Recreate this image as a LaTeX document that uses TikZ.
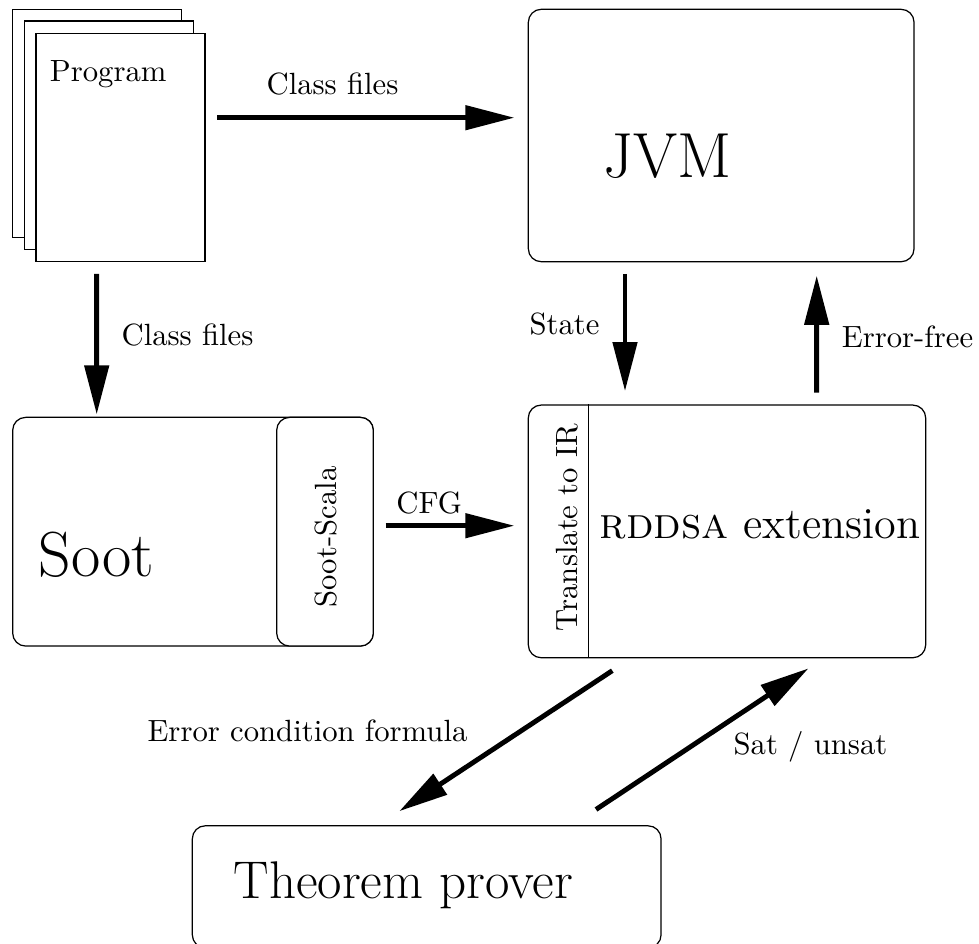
\documentclass[tikz,border=0pt]{standalone}
\usepackage{amsmath}
\usepackage{amssymb}
\usepackage{tikz}
\usetikzlibrary{arrows.meta}
\newcommand{\pxu}{0.3257pt}

\begin{document}
\begin{tikzpicture}[x=\pxu, y=\pxu]
	\tikzstyle{every node}+=[inner sep=0pt]
	\tikzstyle{page}=[draw=black, fill=white, minimum width=169*\pxu, minimum height=228.4*\pxu]
	\tikzstyle{box}=[draw=black, fill=white, rounded corners=4.2pt]
	\tikzstyle{flow}=[black, line width=1.6pt, -{Triangle[length=16pt,width=7.8pt]}]
	\useasboundingbox (0,0) rectangle (979,-943);
	% program pages
	\node (page3) [page] at (97.2,-123.5) {};
	\node (page2) [page] at (108.8,-135.2) {};
	\node (prog) [page] at (120.5,-147.5) {};
	\node (progtxt) [anchor=base west] at (49.3,-81.7) {Program};
	% boxes
	\node (jvm) [box, minimum width=385.7*\pxu, minimum height=252.4*\pxu] at (721.2,-135.5) {};
	\node (jvmtxt) [anchor=base] at (667.9,-177.5) {\huge JVM};
	\node (soot) [box, minimum width=360.6*\pxu, minimum height=228.7*\pxu] at (193,-531.7) {};
	\node (sootscala) [box, minimum width=96.6*\pxu, minimum height=228.7*\pxu] at (325,-531.7) {};
	\node (soottxt) [anchor=base west] at (38.3,-576) {\huge Soot};
	\node (scalatxt) [rotate=90] at (326,-537) {Soot-Scala};
	\node (rddsa) [box, minimum width=397.4*\pxu, minimum height=252.7*\pxu] at (727,-531.4) {};
	\draw [black] ([shift={(60.7,0)}]rddsa.north west) -- ([shift={(60.7,0)}]rddsa.south west);
	\node (irtxt) [rotate=90] at (566.7,-527.5) {Translate to IR};
	\node (rddsatxt) [anchor=base] at (760,-538.3) {\Large \textsc{rddsa} extension};
	\node (thm) [box, minimum width=468.7*\pxu, minimum height=122*\pxu] at (426.7,-886.8) {};
	\node (thmtxt) [anchor=base] at (403.3,-898.3) {\LARGE Theorem prover};
	% connectors
	\draw [flow] ([shift={(11.7,29.8)}]prog.east) -- ([shift={(-13.3,17.8)}]jvm.west);
	\node (lblcf1) [anchor=base] at (332.5,-94) {Class files};
	\draw [flow] ([shift={(-23.8,-11.6)}]prog.south) -- ([shift={(-96.3,2.3)}]soot.north);
	\node (lblcf2) [anchor=base] at (187.5,-345.7) {Class files};
	\draw [flow] ([shift={(-96.2,-11.6)}]jvm.south) -- ([shift={(-102,13.3)}]rddsa.north);
	\node (lblstate) [anchor=base] at (564.5,-334) {State};
	\draw [flow] ([shift={(89.7,11.7)}]rddsa.north) -- ([shift={(95.5,-13.3)}]jvm.south);
	\node (lblfree) [anchor=base] at (907.5,-347.3) {Error-free};
	\draw [flow] ([shift={(11.7,6)}]sootscala.east) -- ([shift={(-13.3,5.7)}]rddsa.west);
	\node (lblcfg) [anchor=base] at (429.2,-513.3) {CFG};
	\draw [flow] ([shift={(-114.7,-12.3)}]rddsa.south) -- ([shift={(-27.4,14)}]thm.north);
	\node (lblecf) [anchor=base] at (307.5,-741.7) {Error condition formula};
	\draw [flow] ([shift={(169.3,15.7)}]thm.north) -- ([shift={(81.5,-10)}]rddsa.south);
	\node (lblsat) [anchor=base] at (810.5,-754) {Sat / unsat};
\end{tikzpicture}
\end{document}
